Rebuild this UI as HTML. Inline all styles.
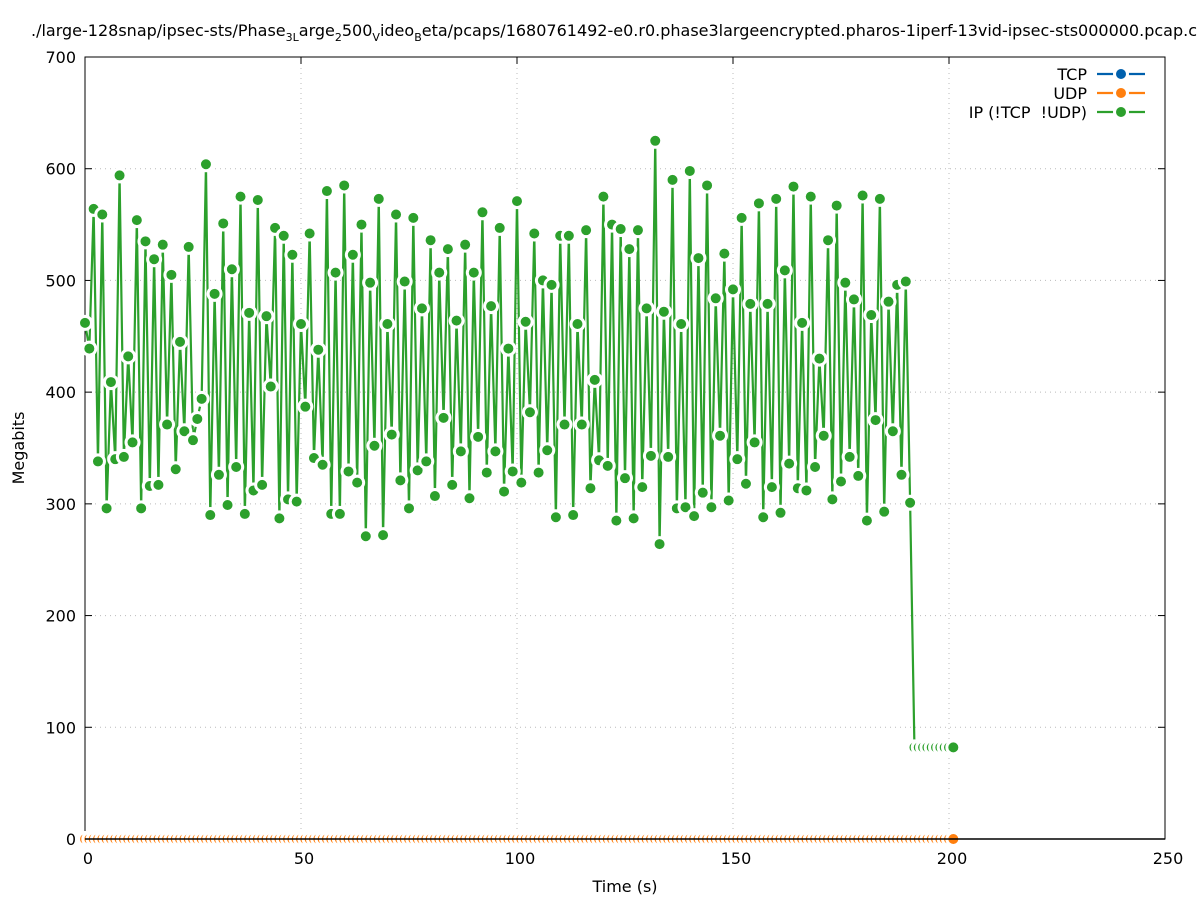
<!DOCTYPE html>
<html><head><meta charset="utf-8"><style>
body{margin:0;background:#fff}
svg{display:block;font-family:"DejaVu Sans","Liberation Sans",sans-serif}
</style></head><body>
<svg id="chart" width="1197" height="900" viewBox="0 0 1197 900"></svg>
<script>
const ipValues=[462,439,564,338,559,296,409,340,594,342,432,355,554,296,535,316,519,317,532,371,505,331,445,365,530,357,376,394,604,290,488,326,551,299,510,333,575,291,471,312,572,317,468,405,547,287,540,304,523,302,461,387,542,341,438,335,580,291,507,291,585,329,523,319,550,271,498,352,573,272,461,362,559,321,499,296,556,330,475,338,536,307,507,377,528,317,464,347,532,305,507,360,561,328,477,347,547,311,439,329,571,319,463,382,542,328,500,348,496,288,540,371,540,290,461,371,545,314,411,339,575,334,550,285,546,323,528,287,545,315,475,343,625,264,472,342,590,296,461,297,598,289,520,310,585,297,484,361,524,303,492,340,556,318,479,355,569,288,479,315,573,292,509,336,584,314,462,312,575,333,430,361,536,304,567,320,498,342,483,325,576,285,469,375,573,293,481,365,496,326,499,301,82,82,82,82,82,82,82,82,82,82];
const tcpValues=ipValues.map(()=>0);
const udpValues=ipValues.map(()=>0);
const xTicks=[0,50,100,150,200,250];
const yTicks=[0,100,200,300,400,500,600,700];
const seriesNames=["TCP","UDP","IP (!TCP\u00a0\u00a0!UDP)"];
const seriesColors=["#0060ad","#ff7f0e","#2ca02c"];

const NS="http://www.w3.org/2000/svg";
const svg=document.getElementById('chart');
const X0=85,X1=1165,Y0=839,Y1=57;
const xs=v=>X0+(v/250)*(X1-X0);
const ys=v=>Y0-(v/700)*(Y0-Y1);
function mk(tag,attrs,parent){const e=document.createElementNS(NS,tag);for(const k in attrs)e.setAttribute(k,attrs[k]);(parent||svg).appendChild(e);return e;}

xTicks.forEach(t=>{if(t>0&&t<250){const g=mk('line',{x1:xs(t),x2:xs(t),y1:Y0,y2:Y1,stroke:'#bbb','stroke-dasharray':'1,4','stroke-width':1});

}});
yTicks.forEach(t=>{if(t>0&&t<700){const g=mk('line',{x1:X0,x2:X1,y1:ys(t),y2:ys(t),stroke:'#bbb','stroke-dasharray':'1,4','stroke-width':1});

}});
const fr=mk('rect',{x:X0,y:Y1,width:X1-X0,height:Y0-Y1,fill:'none',stroke:'#000','stroke-width':1});


xTicks.forEach(t=>{
 mk('line',{x1:xs(t),x2:xs(t),y1:Y0,y2:Y0-7,stroke:'#000'});
 mk('line',{x1:xs(t),x2:xs(t),y1:Y1,y2:Y1+7,stroke:'#000'});
 const l=mk('text',{x:xs(t)+3,y:Y0+25,'text-anchor':'middle','font-size':16});l.textContent=t;
 
 
});
yTicks.forEach(t=>{
 mk('line',{x1:X0,x2:X0+7,y1:ys(t),y2:ys(t),stroke:'#000'});
 mk('line',{x1:X1,x2:X1-7,y1:ys(t),y2:ys(t),stroke:'#000'});
 const l=mk('text',{x:X0-9,y:ys(t)+6,'text-anchor':'end','font-size':16});l.textContent=t;
 
 
});
const xt=mk('text',{x:625,y:892,'text-anchor':'middle','font-size':16});xt.textContent='Time (s)';


const yt=mk('text',{x:24,y:448,'text-anchor':'middle','font-size':16,transform:'rotate(-90 24 448)'});yt.textContent='Megabits';


const tt=mk('text',{x:31,y:36,'font-size':16});


tt.innerHTML='./large-128snap/ipsec-sts/Phase<tspan font-size="11" dy="5">3L</tspan><tspan dy="-5">arge</tspan><tspan font-size="11" dy="5">2</tspan><tspan dy="-5">500</tspan><tspan font-size="11" dy="5">V</tspan><tspan dy="-5">ideo</tspan><tspan font-size="11" dy="5">B</tspan><tspan dy="-5">eta/pcaps/1680761492-e0.r0.phase3largeencrypted.pharos-1iperf-13vid-ipsec-sts000000.pcap.csv</tspan>';

function drawSeries(vals,color,name,r){
 const g=mk('g',{});
 
 
 const pts=vals.map((v,i)=>xs(i)+','+ys(v)).join(' ');
 const pl=mk('polyline',{points:pts,fill:'none',stroke:color,'stroke-width':2.2},g);
 
 
 vals.forEach((v,i)=>{
  const c=mk('circle',{cx:xs(i),cy:ys(v),r:r,fill:color,stroke:'#fff','stroke-width':3},g);
  
  
 });
}
drawSeries(tcpValues,seriesColors[0],'tcp',6.5);
drawSeries(udpValues,seriesColors[1],'udp',6.5);
drawSeries(ipValues,seriesColors[2],'ip',6.5);
mk('line',{x1:X0,x2:X1,y1:Y0,y2:Y0,stroke:'#000','stroke-width':1.5});

seriesNames.forEach((n,k)=>{
 const y=74+k*19;
 const g=mk('g',{});
 
 
 const t=mk('text',{x:1087,y:y+6,'text-anchor':'end','font-size':16},g);t.textContent=n;
 mk('line',{x1:1097,x2:1145,y1:y,y2:y,stroke:seriesColors[k],'stroke-width':2.2},g);
 mk('circle',{cx:1121,cy:y,r:6.5,fill:seriesColors[k],stroke:'#fff','stroke-width':3},g);
});
</script>
</body></html>
